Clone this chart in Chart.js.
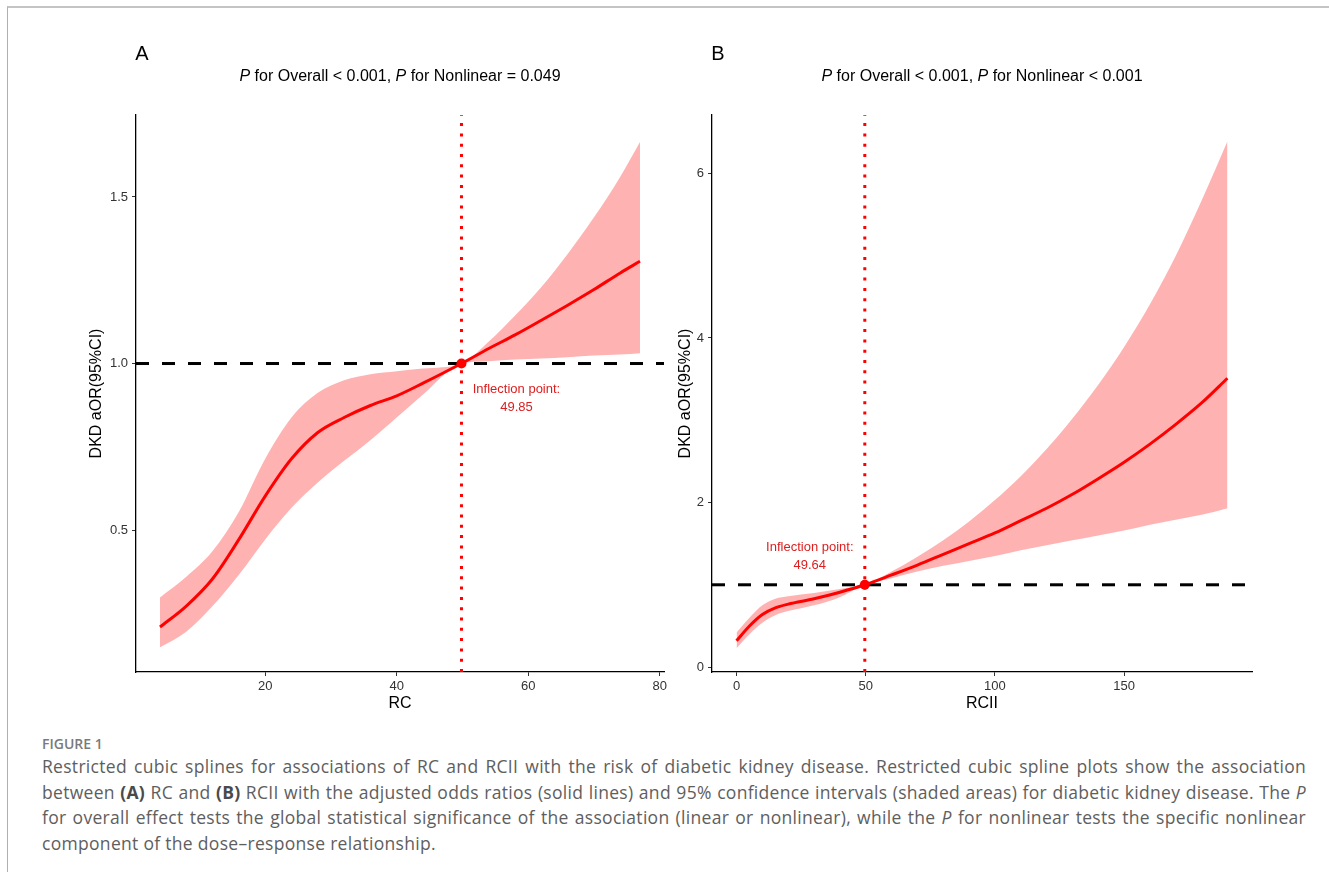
<!DOCTYPE html>
<html>
<head>
<meta charset="utf-8">
<script src="https://cdn.jsdelivr.net/npm/chart.js@4.4.0/dist/chart.umd.min.js"></script>
<style>
  body { margin: 0; background: #fff; }
  #fig { position: relative; width: 1329px; height: 872px; overflow: hidden; background: #fff; }
  .frame { position: absolute; left: 7px; top: 6px; right: -2px; bottom: -2px; border-top: 2px solid #c4c4c4; border-left: 1px solid #b0b0b0; }
  canvas { position: absolute; top: 0; }
  #chartA { left: 0; }
  #chartB { left: 672px; }
  #caption { position: absolute; left: 42px; top: 734px; font-family: "Open Sans", "Noto Sans", sans-serif; color: #5e5e5e; }
  .fig-label { font-size: 14px; font-weight: 600; line-height: 20px; color: #7a7a7a; }
  .line { font-size: 17.5px; letter-spacing: 0.3px; line-height: 25.5px; white-space: nowrap; width: 1264px; text-align: justify; text-align-last: justify; }
  .line.last { text-align-last: left; }
  .line b { color: #4a4a4a; }
</style>
</head>
<body>
<div id="fig">
  <div class="frame"></div>
  <canvas id="chartA" width="672" height="720"></canvas>
  <canvas id="chartB" width="657" height="720"></canvas>
  <div id="caption">
    <div class="fig-label">FIGURE 1</div>
    <div class="line">Restricted cubic splines for associations of RC and RCII with the risk of diabetic kidney disease. Restricted cubic spline plots show the association</div>
    <div class="line">between <b>(A)</b> RC and <b>(B)</b> RCII with the adjusted odds ratios (solid lines) and 95% confidence intervals (shaded areas) for diabetic kidney disease. The <i>P</i></div>
    <div class="line">for overall effect tests the global statistical significance of the association (linear or nonlinear), while the <i>P</i> for nonlinear tests the specific nonlinear</div>
    <div class="line last">component of the dose–response relationship.</div>
  </div>
</div>
<script>
// panel A: RC
const rcX     = [4, 8, 12, 16, 20, 24, 28, 32, 36, 40, 44, 49.85, 54, 58, 62, 66, 70, 74, 77];
const rcOR    = [0.209, 0.272, 0.354, 0.472, 0.602, 0.714, 0.793, 0.838, 0.874, 0.903, 0.941, 1.0, 1.045, 1.086, 1.130, 1.175, 1.222, 1.272, 1.307];
const rcUpper = [0.298, 0.360, 0.437, 0.555, 0.714, 0.838, 0.912, 0.950, 0.968, 0.977, 0.985, 1.0, 1.066, 1.144, 1.230, 1.329, 1.439, 1.561, 1.665];
const rcLower = [0.148, 0.195, 0.272, 0.366, 0.472, 0.567, 0.643, 0.708, 0.770, 0.838, 0.907, 1.0, 1.007, 1.012, 1.015, 1.019, 1.024, 1.027, 1.031];
const rcTicksX = [20, 40, 60, 80];
const rcTicksY = [0.5, 1.0, 1.5];
const rcKnee = 49.85;

// panel B: RCII
const rciiX     = [0, 5, 10, 15, 20, 30, 40, 49.64, 60, 70, 80, 90, 100, 110, 120, 130, 140, 150, 160, 170, 180, 190];
const rciiOR    = [0.32, 0.50, 0.64, 0.72, 0.765, 0.83, 0.91, 1.0, 1.12, 1.24, 1.37, 1.50, 1.63, 1.78, 1.93, 2.10, 2.29, 2.49, 2.71, 2.95, 3.21, 3.51];
const rciiUpper = [0.42, 0.60, 0.75, 0.83, 0.86, 0.90, 0.95, 1.0, 1.16, 1.34, 1.54, 1.77, 2.03, 2.32, 2.65, 3.02, 3.43, 3.89, 4.41, 5.00, 5.67, 6.39];
const rciiLower = [0.23, 0.40, 0.54, 0.63, 0.68, 0.75, 0.85, 1.0, 1.08, 1.16, 1.23, 1.29, 1.35, 1.42, 1.48, 1.54, 1.60, 1.66, 1.73, 1.79, 1.85, 1.93];
const rciiTicksX = [0, 50, 100, 150];
const rciiTicksY = [0, 2, 4, 6];
const rciiKnee = 49.64;

const FONT = '"Liberation Sans", Arial, sans-serif';
const RED = 'rgb(255,0,0)';
const LABEL_RED = '#dc1e1e';
Chart.defaults.font.family = FONT;

const pts = (xs, ys) => xs.map((x, i) => ({x: x, y: ys[i]}));

// letter, P-title and inflection note
const panelText = {
  id: 'panelText',
  afterDatasetsDraw(chart, args, o) {
    const ctx = chart.ctx, area = chart.chartArea;
    ctx.save();
    ctx.fillStyle = '#000';
    ctx.textBaseline = 'middle';
    ctx.textAlign = 'center';
    ctx.font = '20px ' + FONT;
    ctx.fillText(o.letter, o.letterX, 54);

    // title with italic P
    const parts = o.title;
    let total = 0;
    parts.forEach(p => { ctx.font = (p[1] ? 'italic ' : '') + '16px ' + FONT; total += ctx.measureText(p[0]).width; });
    let x = (area.left + area.right) / 2 - total / 2;
    ctx.textAlign = 'left';
    parts.forEach(p => {
      ctx.font = (p[1] ? 'italic ' : '') + '16px ' + FONT;
      ctx.fillText(p[0], x, 77);
      x += ctx.measureText(p[0]).width;
    });

    const kx = chart.scales.x.getPixelForValue(o.knee);
    const ky = chart.scales.y.getPixelForValue(1);
    ctx.fillStyle = LABEL_RED;
    ctx.textAlign = 'center';
    ctx.font = '13px ' + FONT;
    ctx.fillText('Inflection point:', kx + o.dx, ky + o.dy);
    ctx.fillText(o.knee.toFixed(2), kx + o.dx, ky + o.dy + 18);
    ctx.restore();
  }
};

function panel(id, p) {
  new Chart(document.getElementById(id), {
    type: 'line',
    data: {
      datasets: [
        {data: [{x: p.knee, y: 1}], showLine: false, pointRadius: 5, pointBackgroundColor: RED, pointBorderWidth: 0, order: 0},
        {data: pts(p.x, p.or), borderColor: RED, borderWidth: 3, pointRadius: 0, cubicInterpolationMode: 'monotone', order: 1},
        {data: [{x: p.knee, y: p.yMin}, {x: p.knee, y: p.yMax}], borderColor: RED, borderWidth: 3, borderDash: [3, 7.3], pointRadius: 0, order: 2},
        {data: [{x: p.xMin, y: 1}, {x: p.xMax, y: 1}], borderColor: '#000', borderWidth: 3, borderDash: [13, 13], pointRadius: 0, order: 3},
        {data: pts(p.x, p.upper), borderColor: 'rgba(0,0,0,0)', borderWidth: 0, pointRadius: 0, fill: '+1',
          backgroundColor: 'rgba(255,0,0,0.3)', cubicInterpolationMode: 'monotone', order: 4},
        {data: pts(p.x, p.lower), borderColor: 'rgba(0,0,0,0)', borderWidth: 0, pointRadius: 0, fill: false,
          cubicInterpolationMode: 'monotone', order: 5}
      ]
    },
    options: {
      responsive: false,
      animation: false,
      events: [],
      layout: {padding: {left: p.padLeft, right: p.padRight, top: 115, bottom: 0}},
      plugins: {
        legend: {display: false},
        tooltip: {enabled: false},
        panelText: {letter: p.letter, letterX: p.letterX, title: p.title, knee: p.knee, dx: p.dx, dy: p.dy}
      },
      scales: {
        x: {
          type: 'linear', min: p.xMin, max: p.xMax,
          afterBuildTicks: s => { s.ticks = p.ticksX.map(v => ({value: v})); },
          afterFit: s => { s.height = 48; },
          border: {display: true, color: '#000', width: 1.3},
          grid: {drawOnChartArea: false, drawTicks: true, tickLength: 4, color: '#333'},
          ticks: {color: '#333', font: {size: 13}, padding: 3, maxRotation: 0},
          title: {display: true, text: p.xTitle, color: '#000', font: {size: 16}, padding: {top: 0, bottom: 7}}
        },
        y: {
          min: p.yMin, max: p.yMax,
          afterBuildTicks: s => { s.ticks = p.ticksY.map(v => ({value: v})); },
          afterFit: s => { s.width = p.yWidth; },
          border: {display: true, color: '#000', width: 1.3},
          grid: {drawOnChartArea: false, drawTicks: true, tickLength: 4, color: '#333'},
          ticks: {color: '#333', font: {size: 13}, padding: 4, callback: p.fmt},
          title: {display: true, text: 'DKD aOR(95%CI)', color: '#000', font: {size: 16}, padding: {top: 0, bottom: 0}}
        }
      }
    },
    plugins: [panelText]
  });
}

panel('chartA', {
  x: rcX, or: rcOR, upper: rcUpper, lower: rcLower, knee: rcKnee,
  ticksX: rcTicksX, ticksY: rcTicksY, xMin: 0.35, xMax: 80.65, yMin: 0.074, yMax: 1.746,
  xTitle: 'RC', fmt: v => v.toFixed(1),
  padLeft: 87, padRight: 8, yWidth: 49,
  letter: 'A', letterX: 142, dx: 55, dy: 26,
  title: [['P', true], [' for Overall < 0.001, ', false], ['P', true], [' for Nonlinear = 0.049', false]]
});

panel('chartB', {
  x: rciiX, or: rciiOR, upper: rciiUpper, lower: rciiLower, knee: rciiKnee,
  ticksX: rciiTicksX, ticksY: rciiTicksY, xMin: -9.5, xMax: 199.5, yMin: -0.06, yMax: 6.71,
  xTitle: 'RCII', fmt: v => v,
  padLeft: 4, padRight: 77, yWidth: 36,
  letter: 'B', letterX: 46, dx: -55, dy: -37,
  title: [['P', true], [' for Overall < 0.001, ', false], ['P', true], [' for Nonlinear < 0.001', false]]
});
</script>
</body>
</html>
